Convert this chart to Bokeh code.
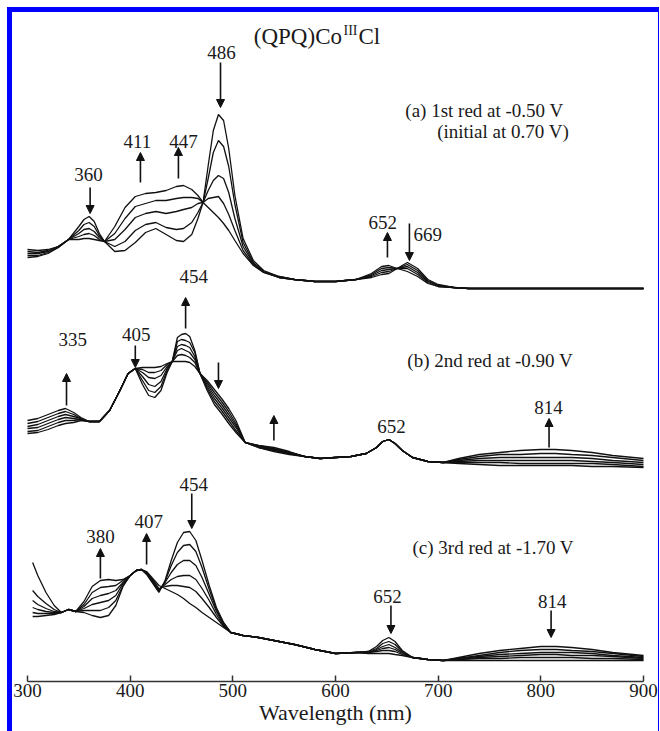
from bokeh.plotting import figure
from bokeh.models import Range1d, LinearAxis, FixedTicker, Arrow, NormalHead
from bokeh.core.properties import value
from bokeh.embed import file_html
from bokeh.resources import INLINE

# ---------------------------------------------------------------------------
# Thin-layer spectroelectrochemistry of (QPQ)Co(III)Cl.
# Absorbance in arbitrary units; each reduction step is drawn with its own
# vertical offset. Scans run from the initial spectrum (scan 0) to the last.
# ---------------------------------------------------------------------------

# (a) 1st reduction at -0.50 V
wl_a = [300, 310, 320, 330, 340, 350, 355, 360, 365, 370, 375, 385, 395, 405, 415,
        425, 435, 445, 452, 460, 466, 471, 476, 481, 486, 491, 496, 502, 510, 520,
        530, 545, 560, 580, 600, 620, 635, 645, 652, 660, 670, 680, 690, 700, 715,
        730, 760, 800, 850, 900]
a_scan0 = [31, 32, 35, 41, 49, 62, 69, 72, 67, 55, 47, 37, 38, 46, 56,
           60, 54, 48, 47, 54, 70, 86, 123, 158, 174, 168, 140, 93, 50, 28,
           18, 12, 9, 7, 7, 9, 11, 14, 15, 20, 26, 20, 9, 4, 1,
           0, 0, 0, 0, 0]
a_scan1 = [33, 33, 36, 41, 49, 58, 64, 66, 62, 53, 47, 42, 47, 58, 64,
           66, 61, 59, 60, 66, 76, 86, 110, 136, 148, 142, 122, 84, 46, 26,
           17, 12, 9, 7, 7, 9, 12, 16, 17, 20, 24, 18, 8, 3, 1,
           0, 0, 0, 0, 0]
a_scan2 = [35, 35, 37, 42, 49, 55, 59, 60, 57, 51, 47, 49, 59, 71, 75,
           77, 75, 77, 79, 81, 85, 86, 98, 108, 113, 110, 96, 70, 42, 25,
           17, 11, 9, 7, 7, 9, 13, 18, 19, 20, 22, 16, 7, 3, 1,
           0, 0, 0, 0, 0]
a_scan3 = [37, 36, 38, 42, 49, 52, 54, 55, 53, 49, 47, 55, 70, 82, 85,
           88, 88, 90, 91, 91, 90, 86, 90, 91, 92, 85, 74, 58, 38, 24,
           16, 11, 9, 7, 7, 9, 14, 20, 21, 20, 20, 14, 6, 2, 1,
           0, 0, 0, 0, 0]
a_scan4 = [39, 38, 39, 42, 49, 49, 50, 50, 49, 48, 47, 62, 81, 92, 95,
           96, 98, 102, 103, 99, 93, 86, 81, 76, 71, 65, 58, 48, 35, 23,
           16, 11, 9, 7, 7, 9, 15, 22, 23, 20, 17, 12, 5, 2, 1,
           0, 0, 0, 0, 0]

# (b) 2nd reduction at -0.90 V
wl_b = [300, 310, 320, 330, 337, 345, 352, 360, 370, 380, 390, 398, 405, 412, 418,
        424, 430, 436, 441, 446, 450, 454, 458, 463, 468, 475, 482, 489, 496, 503,
        512, 525, 540, 555, 570, 585, 600, 615, 630, 640, 646, 652, 658, 665, 675,
        690, 705, 720, 740, 760, 780, 800, 814, 830, 850, 870, 900]
b_scan0 = [37, 38, 41, 45, 47, 48, 50, 49, 49, 60, 80, 97, 102, 103, 103,
           103, 104, 107, 109, 109, 109, 109, 108, 104, 97, 90, 81, 72, 62, 50,
           28, 23, 19, 16, 14, 12, 13, 14, 17, 23, 29, 31, 27, 20, 13,
           9, 8, 7, 6, 5, 5, 5, 5, 5, 4, 4, 3]
b_scan1 = [39, 40, 44, 48, 50, 50, 51, 49, 49, 60, 80, 97, 102, 101, 98,
           98, 100, 106, 109, 115, 116, 115, 113, 108, 97, 88, 78, 69, 59, 47,
           28, 23, 20, 17, 14, 12, 13, 14, 17, 23, 29, 31, 27, 20, 13,
           9, 8, 8, 8, 8, 7, 7, 7, 7, 7, 6, 4]
b_scan2 = [42, 43, 47, 51, 53, 52, 51, 49, 49, 60, 80, 97, 102, 98, 93,
           92, 95, 104, 109, 120, 122, 120, 118, 111, 97, 86, 75, 66, 56, 45,
           28, 24, 21, 17, 14, 12, 13, 14, 17, 23, 29, 31, 27, 20, 13,
           9, 8, 9, 10, 10, 10, 10, 10, 10, 9, 8, 6]
b_scan3 = [44, 46, 50, 54, 56, 54, 52, 49, 49, 60, 80, 97, 102, 94, 86,
           84, 89, 102, 109, 124, 126, 125, 123, 114, 97, 84, 72, 63, 53, 43,
           28, 24, 21, 18, 14, 12, 13, 14, 17, 23, 29, 31, 27, 20, 13,
           9, 8, 10, 12, 13, 13, 13, 13, 13, 12, 10, 8]
b_scan4 = [47, 49, 53, 57, 59, 56, 52, 49, 49, 60, 80, 97, 102, 90, 80,
           78, 84, 100, 109, 129, 131, 130, 128, 118, 97, 82, 69, 60, 50, 40,
           28, 25, 22, 18, 14, 12, 13, 14, 17, 23, 29, 31, 27, 20, 13,
           9, 8, 11, 14, 16, 16, 17, 17, 16, 15, 13, 10]
b_scan5 = [50, 52, 56, 60, 62, 58, 53, 49, 49, 60, 80, 97, 102, 86, 75,
           73, 80, 98, 109, 133, 136, 137, 134, 120, 97, 80, 66, 57, 47, 38,
           28, 25, 23, 19, 14, 12, 13, 14, 17, 23, 29, 31, 27, 20, 13,
           9, 8, 12, 16, 18, 20, 21, 21, 20, 18, 15, 12]

# (c) 3rd reduction at -1.70 V
wl_c = [305, 310, 318, 326, 333, 340, 347, 355, 363, 371, 379, 386, 393, 400, 406,
        411, 416, 422, 428, 434, 440, 446, 452, 458, 464, 470, 477, 484, 491, 498,
        510, 525, 540, 560, 580, 600, 620, 632, 640, 646, 652, 658, 665, 675, 690,
        705, 720, 740, 760, 780, 800, 815, 830, 850, 870, 900]
c_scan0 = [46, 46, 47, 48, 50, 53, 51, 50, 47, 45, 47, 57, 76, 87, 92,
           93, 88, 79, 70, 82, 102, 120, 130, 131, 122, 102, 77, 55, 40, 30,
           27, 25, 22, 18, 13, 9, 10, 11, 16, 22, 25, 21, 12, 5, 3,
           2, 5, 9, 12, 14, 16, 16, 15, 13, 10, 7]
c_scan1 = [50, 49, 49, 49, 50, 53, 51, 52, 52, 52, 55, 62, 77, 87, 92,
           93, 89, 80, 71, 81, 97, 110, 117, 118, 111, 95, 73, 53, 39, 30,
           27, 25, 22, 18, 13, 9, 10, 11, 14, 19, 21, 18, 11, 5, 3,
           2, 4, 7, 10, 12, 13, 13, 12, 11, 9, 6]
c_scan2 = [55, 53, 51, 50, 50, 53, 51, 54, 58, 60, 62, 67, 79, 87, 92,
           93, 89, 81, 72, 80, 90, 98, 102, 102, 97, 85, 68, 51, 38, 30,
           27, 25, 22, 18, 13, 9, 10, 10, 13, 16, 18, 15, 10, 5, 3,
           2, 4, 6, 8, 9, 10, 10, 10, 9, 7, 5]
c_scan3 = [62, 58, 54, 51, 50, 53, 51, 56, 64, 67, 69, 72, 80, 87, 92,
           93, 90, 82, 73, 78, 83, 86, 87, 87, 83, 74, 62, 48, 37, 30,
           27, 25, 22, 18, 13, 9, 10, 10, 12, 14, 15, 13, 9, 5, 3,
           2, 3, 5, 6, 7, 8, 8, 7, 7, 6, 4]
c_scan4 = [72, 66, 59, 53, 50, 53, 51, 58, 70, 75, 76, 77, 82, 87, 92,
           93, 90, 83, 74, 76, 77, 77, 76, 75, 71, 64, 55, 45, 36, 30,
           27, 25, 22, 18, 13, 9, 10, 10, 11, 12, 12, 11, 8, 5, 3,
           2, 3, 4, 4, 5, 5, 5, 5, 4, 4, 3]
c_scan5 = [100, 87, 70, 57, 50, 53, 51, 61, 76, 82, 83, 82, 83, 87, 92,
           93, 91, 84, 77, 74, 71, 68, 64, 59, 55, 50, 45, 40, 35, 30,
           27, 25, 22, 18, 13, 9, 10, 9, 9, 9, 9, 8, 7, 5, 3,
           2, 2, 2, 2, 2, 2, 2, 2, 2, 2, 2]

# vertical offsets of the three stacked sets
offset_a, offset_b, offset_c = 393, 211, 19

x_ticks = [300, 400, 500, 600, 700, 800, 900]

# arrows: wavelength, tail height, head height
arrow_x = [361, 410, 447, 488, 650.6, 672,
           338, 405, 454, 486, 540, 808,
           371, 416, 460, 654, 810]
arrow_y0 = [494, 499, 503, 619, 424, 458,
            276, 336, 353, 319, 241, 234,
            103, 117, 188, 76, 71]
arrow_y1 = [468, 529, 534, 574, 449, 421,
            308, 314, 384, 293, 266, 263,
            133, 148, 153, 48, 44]

# band labels (centred)
band_text = ["360", "411", "447", "486", "652",
             "335", "405", "454", "652", "814",
             "380", "407", "454", "652", "814"]
band_x = [359.4, 407, 452, 489, 646,
          344, 406, 462, 654.5, 807.5,
          371, 418, 462, 650.6, 811]
band_y = [507, 540, 540, 629, 459,
          342, 347, 405, 255, 274,
          145, 160, 197, 85, 80]

# band label set beside its arrow
side_text = ["669"]
side_x = [676]
side_y = [447]

# step descriptions
step_text = ["(a) 1st red at -0.50 V", "(initial at 0.70 V)",
             "(b) 2nd red at -0.90 V", "(c) 3rd red at -1.70 V"]
step_x = [668, 699, 670, 675]
step_y = [571, 550, 321, 134]

SERIF = "Liberation Serif"
INK = "#1a1a1a"

p = figure(frame_width=646, frame_height=669,
           x_range=Range1d(285.39, 914.61), y_range=Range1d(0, 669),
           x_axis_type=None, y_axis_type=None,
           output_backend="svg", toolbar_location=None,
           min_border_left=0, min_border_right=0, min_border_top=0,
           min_border_bottom=50, background_fill_color="white",
           border_fill_color="white")
p.outline_line_color = None
p.xgrid.visible = False
p.ygrid.visible = False
p.styles = {"margin-left": "7px", "margin-top": "7px",
            "border-top": "5px solid #0000ff",
            "border-left": "5px solid #0000ff",
            "border-right": "1px solid #0000ff",
            "box-sizing": "content-box"}

xaxis = LinearAxis(ticker=FixedTicker(ticks=x_ticks), bounds=(300, 900),
                   axis_label="Wavelength (nm)")
xaxis.major_tick_in = 6
xaxis.major_tick_out = 0
xaxis.minor_tick_in = 0
xaxis.minor_tick_out = 0
xaxis.axis_line_width = 1.5
xaxis.axis_line_color = "#333333"
xaxis.major_tick_line_width = 1.5
xaxis.major_tick_line_color = "#333333"
xaxis.major_label_standoff = 2
xaxis.major_label_text_font = SERIF
xaxis.major_label_text_font_size = "19px"
xaxis.major_label_text_color = INK
xaxis.axis_label_standoff = 0
xaxis.axis_label_text_font = SERIF
xaxis.axis_label_text_font_size = "22px"
xaxis.axis_label_text_font_style = "normal"
xaxis.axis_label_text_color = INK
p.add_layout(xaxis, "below")

# spectra
sets = [
    (wl_a, [a_scan0, a_scan1, a_scan2, a_scan3, a_scan4], offset_a),
    (wl_b, [b_scan0, b_scan1, b_scan2, b_scan3, b_scan4, b_scan5], offset_b),
    (wl_c, [c_scan0, c_scan1, c_scan2, c_scan3, c_scan4, c_scan5], offset_c),
]
for wl, scans, off in sets:
    for scan in scans:
        p.line(wl, [v + off for v in scan], line_color="#111111", line_width=1.3)

# arrows marking growing / decaying bands
for x, y0, y1 in zip(arrow_x, arrow_y0, arrow_y1):
    p.add_layout(Arrow(x_start=x, y_start=y0, x_end=x, y_end=y1,
                       line_color="#111111", line_width=1.6,
                       end=NormalHead(size=8, fill_color="#111111",
                                      line_color="#111111", line_width=1)))

p.text(x=band_x, y=band_y, text=band_text, text_font=value(SERIF),
       text_font_size=value("19px"), text_align="center",
       text_baseline="alphabetic", text_color=INK)
p.text(x=side_x, y=side_y, text=side_text, text_font=value(SERIF),
       text_font_size=value("19px"), text_align="left",
       text_baseline="alphabetic", text_color=INK)
p.text(x=step_x, y=step_y, text=step_text, text_font=value(SERIF),
       text_font_size=value("19px"), text_align="left",
       text_baseline="alphabetic", text_color=INK)

# compound name with the oxidation state as a superscript
p.text(x=[606.3], y=[645], text=["(QPQ)Co"], text_font=value(SERIF),
       text_font_size=value("23px"), text_align="right",
       text_baseline="alphabetic", text_color=INK)
p.text(x=[607.8], y=[651], text=["III"], text_font=value(SERIF),
       text_font_size=value("14px"), text_align="left",
       text_baseline="alphabetic", text_color=INK)
p.text(x=[622.4], y=[645], text=["Cl"], text_font=value(SERIF),
       text_font_size=value("23px"), text_align="left",
       text_baseline="alphabetic", text_color=INK)

open("out.html", "w").write(file_html(p, INLINE))
